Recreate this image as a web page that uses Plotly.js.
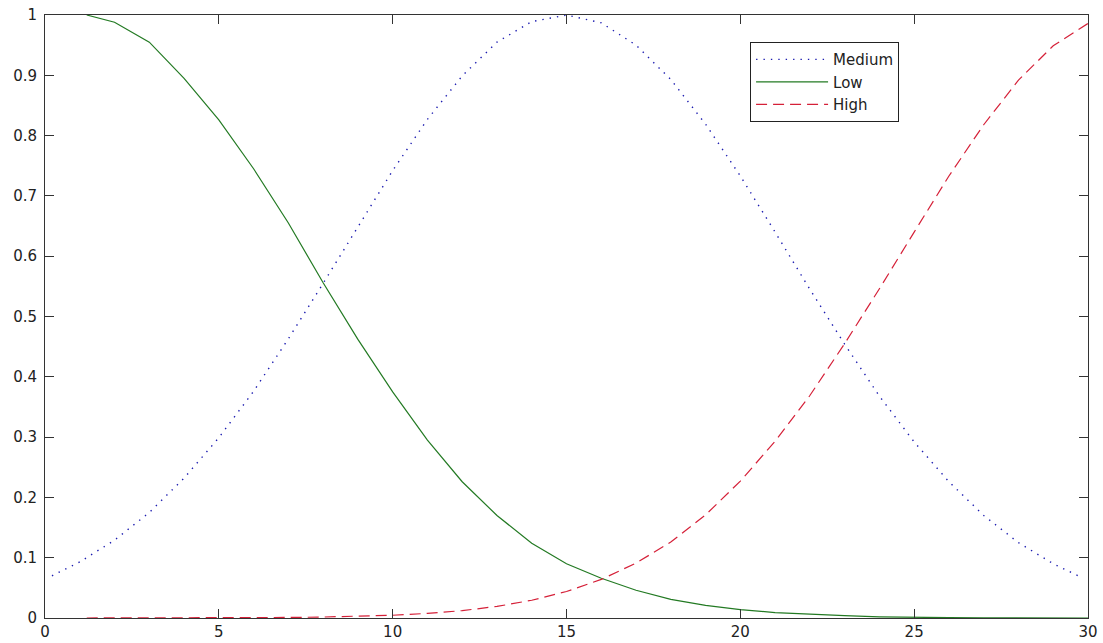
<!DOCTYPE html>
<html>
<head>
<meta charset="utf-8">
<script src="https://cdn.plot.ly/plotly-3.0.1.min.js"></script>
<style>
  html, body { margin: 0; padding: 0; background: #ffffff; }
  #chart { width: 1103px; height: 643px; }
</style>
</head>
<body>
<div id="chart"></div>
<script>
// Series names (legend order)
const seriesNames = ["Medium", "Low", "High"];

// x samples
const xMedium = [0.2, 1, 2, 3, 4, 5, 6, 7, 8, 9, 10, 11, 12, 13, 14, 15, 16, 17, 18, 19, 20, 21, 22, 23, 24, 25, 26, 27, 28, 29, 29.86];
const xLowHigh = [1.2, 2, 3, 4, 5, 6, 7, 8, 9, 10, 11, 12, 13, 14, 15, 16, 17, 18, 19, 20, 21, 22, 23, 24, 25, 26, 27, 28, 29, 30];

// membership values
const yMedium = [0.070, 0.093, 0.129, 0.175, 0.232, 0.299, 0.376, 0.463, 0.555, 0.649, 0.742, 0.827, 0.899, 0.955, 0.989, 1.000, 0.987, 0.950, 0.893, 0.819, 0.733, 0.640, 0.545, 0.454, 0.368, 0.292, 0.226, 0.170, 0.125, 0.090, 0.066];
const yLow = [1.000, 0.988, 0.955, 0.895, 0.826, 0.745, 0.655, 0.556, 0.462, 0.375, 0.295, 0.226, 0.170, 0.124, 0.090, 0.066, 0.046, 0.031, 0.021, 0.014, 0.009, 0.006, 0.004, 0.002, 0.001, 0.0005, 0.0003, 0.0001, 0.0001, 0.0000];
const yHigh = [0.0000, 0.0000, 0.0001, 0.0001, 0.0002, 0.0005, 0.0009, 0.0016, 0.0027, 0.0046, 0.0076, 0.0122, 0.0192, 0.0294, 0.0439, 0.064, 0.091, 0.126, 0.171, 0.227, 0.293, 0.369, 0.455, 0.546, 0.640, 0.733, 0.818, 0.892, 0.949, 0.986];

// axis ticks
const xTicks = [0, 5, 10, 15, 20, 25, 30];
const yTicks = [0, 0.1, 0.2, 0.3, 0.4, 0.5, 0.6, 0.7, 0.8, 0.9, 1];
const yTickText = ["0", "0.1", "0.2", "0.3", "0.4", "0.5", "0.6", "0.7", "0.8", "0.9", "1"];

const FONT = "DejaVu Sans, Liberation Sans, Arial, sans-serif";

const traces = [
  {
    x: xMedium, y: yMedium, name: seriesNames[0], type: "scatter", mode: "lines",
    line: { color: "#1c1cb0", width: 1.4, dash: "1.4px,6px" }
  },
  {
    x: xLowHigh, y: yLow, name: seriesNames[1], type: "scatter", mode: "lines",
    line: { color: "#237a23", width: 1.2 }
  },
  {
    x: xLowHigh, y: yHigh, name: seriesNames[2], type: "scatter", mode: "lines",
    line: { color: "#d52038", width: 1.2, dash: "11px,6px" }
  }
];

const axisCommon = {
  showgrid: false,
  zeroline: false,
  showline: true,
  linecolor: "#333333",
  linewidth: 1,
  mirror: "ticks",
  ticks: "inside",
  ticklen: 9,
  tickwidth: 1,
  tickcolor: "#333333",
  tickfont: { family: FONT, size: 15, color: "#222222" }
};

const layout = {
  width: 1103,
  height: 643,
  paper_bgcolor: "#ffffff",
  plot_bgcolor: "#ffffff",
  margin: { l: 45, r: 15, t: 15, b: 25 },
  showlegend: true,
  legend: {
    x: 0.676, y: 0.955, xanchor: "left", yanchor: "top",
    bgcolor: "#ffffff", bordercolor: "#222222", borderwidth: 1,
    font: { family: FONT, size: 15, color: "#222222" },
    itemwidth: 72,
    tracegroupgap: 0
  },
  xaxis: Object.assign({}, axisCommon, {
    range: [0, 30], tickvals: xTicks, ticktext: xTicks.map(String)
  }),
  yaxis: Object.assign({}, axisCommon, {
    range: [0, 1], tickvals: yTicks, ticktext: yTickText, ticklabelstandoff: 4
  })
};

Plotly.newPlot("chart", traces, layout, { displayModeBar: false, staticPlot: true });
</script>
</body>
</html>
